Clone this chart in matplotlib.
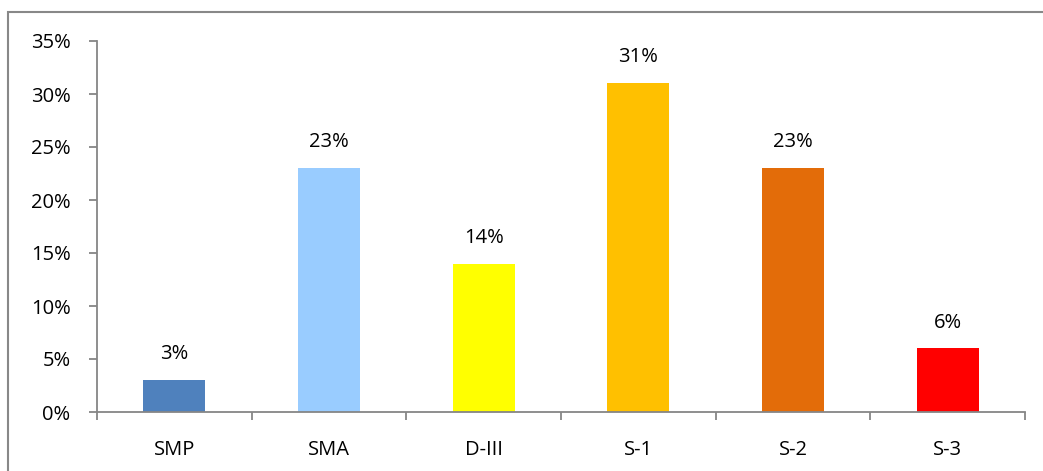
import matplotlib.pyplot as plt
from matplotlib.patches import Rectangle
from matplotlib.ticker import FuncFormatter

categories = ['SMP', 'SMA', 'D-III', 'S-1', 'S-2', 'S-3']
values = [3, 23, 14, 31, 23, 6]
colors = ['#4F81BD', '#99CCFF', '#FFFF00', '#FFC000', '#E36C09', '#FF0000']

plt.rcParams['font.family'] = ['Open Sans', 'DejaVu Sans']

fig = plt.figure(figsize=(10.43, 4.71), dpi=100)
ax = fig.add_axes([97 / 1043, 1 - 412 / 471, 928 / 1043, 371 / 471])

# outer chart border (cut off at right and bottom)
fig.patches.append(Rectangle((8 / 1043, -0.1), 1.2, 1 - 12 / 471 + 0.1,
                             transform=fig.transFigure, fill=False,
                             edgecolor='#888888', linewidth=1.5))

x = range(len(categories))
ax.bar(x, values, width=0.4, color=colors)
for i, v in enumerate(values):
    ax.text(i, v + 1.5, f'{v}%', ha='center', va='bottom', fontsize=14.5)

ax.set_xlim(-0.5, len(categories) - 0.5)
ax.set_ylim(0, 35)
ax.set_yticks(range(0, 36, 5))
ax.yaxis.set_major_formatter(FuncFormatter(lambda v, p: f'{int(v)}%'))
ax.set_xticks(list(x))
ax.set_xticklabels(categories)
ax.set_xticks([i - 0.5 for i in range(len(categories) + 1)], minor=True)

for s in ['top', 'right']:
    ax.spines[s].set_visible(False)
for s in ['left', 'bottom']:
    ax.spines[s].set_color('#868686')
    ax.spines[s].set_linewidth(1.3)
ax.tick_params(axis='y', length=6, width=1.3, color='#868686', labelsize=14.5, pad=13)
ax.tick_params(axis='x', which='major', length=0, labelsize=14.5, pad=20)
ax.tick_params(axis='x', which='minor', length=6, width=1.3, color='#868686')

fig.savefig('out.png')
